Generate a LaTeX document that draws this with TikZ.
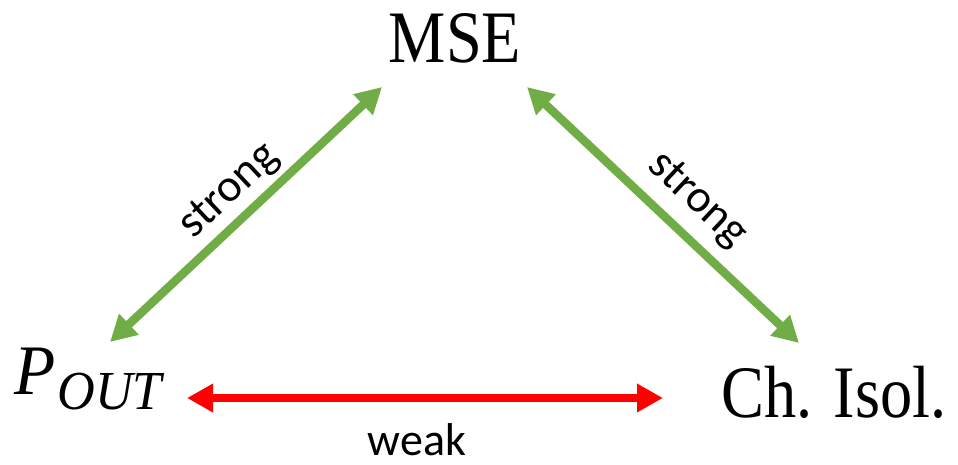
\documentclass[tikz,border=0pt]{standalone}
\usepackage{fontspec}
\usetikzlibrary{arrows.meta}
\newfontfamily\bigserif[FakeStretch=0.87]{Liberation Serif}
\newfontfamily\bigitalic[FakeStretch=0.95]{Liberation Serif Italic}
\newfontfamily\labelfont{Carlito}
\definecolor{stronggreen}{HTML}{70AD47}
\definecolor{weakred}{HTML}{FF0000}
\tikzset{
  term/.style={inner sep=0pt, font=\bigserif\fontsize{74}{80}\selectfont},
  dbl/.style={line width=8.5pt, {Triangle[length=26pt,width=27pt]}-{Triangle[length=26pt,width=27pt]}},
  lbl/.style={font=\labelfont\fontsize{46}{50}\selectfont, text=black}
}
\begin{document}
\begin{tikzpicture}[x=1pt,y=-1pt]
\useasboundingbox (0,0) rectangle (958,465);
\node[term, anchor=base] (mse) at (455,63) {MSE};
\node[term, anchor=base] (iso) at (834,417) {Ch. Isol.};
\node[inner sep=0pt, anchor=base west] (pout) at (14,394)
  {\bigitalic\fontsize{71}{80}\selectfont P\kern2pt\raisebox{-15pt}{\fontsize{55}{60}\selectfont OUT}};
\coordinate (pl) at (110,342);
\coordinate (ml) at (382,87);
\coordinate (mr) at (527,87);
\coordinate (ir) at (799,343);
\coordinate (wl) at (187,398);
\coordinate (wr) at (663,398);
\draw[dbl, stronggreen] (pl) -- node[lbl, sloped, above=2pt, pos=0.51] (s1) {strong} (ml);
\draw[dbl, stronggreen] (mr) -- node[lbl, sloped, above=8pt, pos=0.54] (s2) {strong} (ir);
\draw[dbl, weakred] (wl) -- (wr);
\node[lbl, anchor=base] (wk) at (417,455) {weak};
\end{tikzpicture}
\end{document}
